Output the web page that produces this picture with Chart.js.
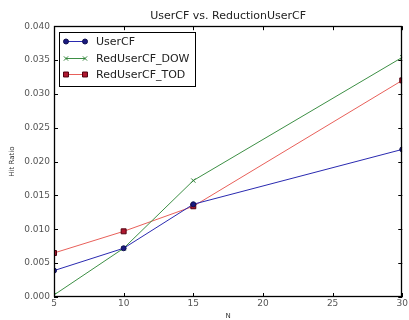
<!DOCTYPE html>
<html><head><meta charset="utf-8">
<script src="https://cdn.jsdelivr.net/npm/chart.js@4/dist/chart.umd.min.js"></script>
<style>html,body{margin:0;padding:0;background:#fff}#wrap{width:409px;height:320px}</style>
</head><body><div id="wrap"><canvas id="c" width="409" height="320"></canvas></div>
<script>
const titleText = "UserCF vs. ReductionUserCF";
const xLabel = "N";
const yLabel = "Hit Ratio";
const nValues = [5, 10, 15, 30];
const userCF = [0.0039, 0.0072, 0.0137, 0.0218];
const redDOW = [0.0003, 0.0072, 0.0172, 0.0354];
const redTOD = [0.0065, 0.0097, 0.0134, 0.0320];
const seriesNames = ["UserCF", "RedUserCF_DOW", "RedUserCF_TOD"];

const FONT = "'DejaVu Sans', sans-serif";
const styles = [
  {line:'#2a2ab0', fill:'#1a1a80', edge:'#101050', style:'circle', r:2.5},
  {line:'#3d8f45', fill:'#3d8f45', edge:'#2d7f35', style:'crossRot', r:3},
  {line:'#e8605a', fill:'#b01830', edge:'#500010', style:'rect', r:3.5}
];
const datasets = [userCF, redDOW, redTOD].map((vals, i) => ({
  label: seriesNames[i],
  data: nValues.map((n, j) => ({x: n, y: vals[j]})),
  borderColor: styles[i].line,
  borderWidth: 1,
  pointStyle: styles[i].style,
  pointRadius: styles[i].r,
  pointBackgroundColor: styles[i].fill,
  pointBorderColor: styles[i].edge,
  pointBorderWidth: 1,
  tension: 0
}));

new Chart(document.getElementById('c'), {
  type: 'line',
  data: {datasets},
  options: {
    responsive: false,
    animation: false,
    layout: {padding: {top: 0, right: 5, left: 0, bottom: 0}},
    plugins: {
      legend: {display: false},
      tooltip: {enabled: false},
      title: {display: true, fullSize: false, text: titleText, color: '#222', font: {family: FONT, size: 11, weight: 'normal'}, padding: {top: 10, bottom: 3}}
    },
    scales: {
      x: {
        type: 'linear', min: 5, max: 30,
        ticks: {stepSize: 5, color: '#555', font: {family: FONT, size: 9}, padding: 1, maxRotation: 0},
        grid: {display: false, drawTicks: false},
        border: {display: false},
        title: {display: true, text: xLabel, color: '#333', font: {family: FONT, size: 7}, padding: {top: 0, bottom: 0}},
        afterFit(s) { s.height = 23; }
      },
      y: {
        type: 'linear', min: 0, max: 0.04,
        ticks: {stepSize: 0.005, color: '#555', font: {family: FONT, size: 9}, padding: 4,
          callback: v => v.toFixed(3)},
        grid: {display: false, drawTicks: false},
        border: {display: false},
        title: {display: true, text: yLabel, color: '#333', font: {family: FONT, size: 7}, padding: {top: 8, bottom: 0}},
        afterFit(s) { s.width = 54; }
      }
    }
  },
  plugins: [{
    id: 'frameAndLegend',
    beforeDatasetsDraw(chart) {
      const {ctx, chartArea: a} = chart;
      ctx.save();
      ctx.beginPath();
      ctx.rect(a.left, a.top, a.right - a.left, a.bottom - a.top);
      ctx.clip();
    },
    afterDatasetsDraw(chart) {
      const {ctx, chartArea: a, scales: {x, y}} = chart;
      ctx.restore();
      ctx.save();
      ctx.strokeStyle = '#000';
      ctx.lineWidth = 1;
      ctx.beginPath();
      x.ticks.forEach(t => {
        const px = Math.round(x.getPixelForValue(t.value)) + 0.5;
        ctx.moveTo(px, a.bottom); ctx.lineTo(px, a.bottom - 4);
        ctx.moveTo(px, a.top); ctx.lineTo(px, a.top + 4);
      });
      y.ticks.forEach(t => {
        const py = Math.round(y.getPixelForValue(t.value)) + 0.5;
        ctx.moveTo(a.left, py); ctx.lineTo(a.left + 4, py);
        ctx.moveTo(a.right, py); ctx.lineTo(a.right - 4, py);
      });
      ctx.stroke();
      ctx.lineWidth = 1.3;
      ctx.strokeRect(Math.round(a.left) + 0.5, Math.round(a.top) + 0.5, Math.round(a.right - a.left) - 1, Math.round(a.bottom - a.top) - 1);
      const lx = Math.round(a.left) + 5, ly = Math.round(a.top) + 6, lw = 136, lh = 54;
      ctx.fillStyle = '#fff';
      ctx.fillRect(lx, ly, lw, lh);
      ctx.lineWidth = 1;
      ctx.strokeStyle = '#000';
      ctx.strokeRect(lx + 0.5, ly + 0.5, lw, lh);
      ctx.font = '11px ' + FONT;
      ctx.textBaseline = 'middle';
      chart.data.datasets.forEach((ds, i) => {
        const ry = Math.round(ly + 9 + i * 16.7) + 0.5;
        const x1 = lx + 7, x2 = lx + 26;
        ctx.strokeStyle = ds.borderColor;
        ctx.lineWidth = 1;
        ctx.beginPath(); ctx.moveTo(x1, ry); ctx.lineTo(x2, ry); ctx.stroke();
        [x1, x2].forEach(px => {
          ctx.fillStyle = ds.pointBackgroundColor;
          ctx.strokeStyle = ds.pointBorderColor;
          ctx.lineWidth = 1;
          Chart.helpers.drawPoint(ctx, {pointStyle: ds.pointStyle, radius: ds.pointRadius, borderWidth: 1, rotation: 0}, px, ry);
        });
        ctx.fillStyle = '#222';
        ctx.fillText(ds.label, lx + 37, ry + 0.5);
      });
      ctx.restore();
    }
  }]
});
</script>
</body></html>
